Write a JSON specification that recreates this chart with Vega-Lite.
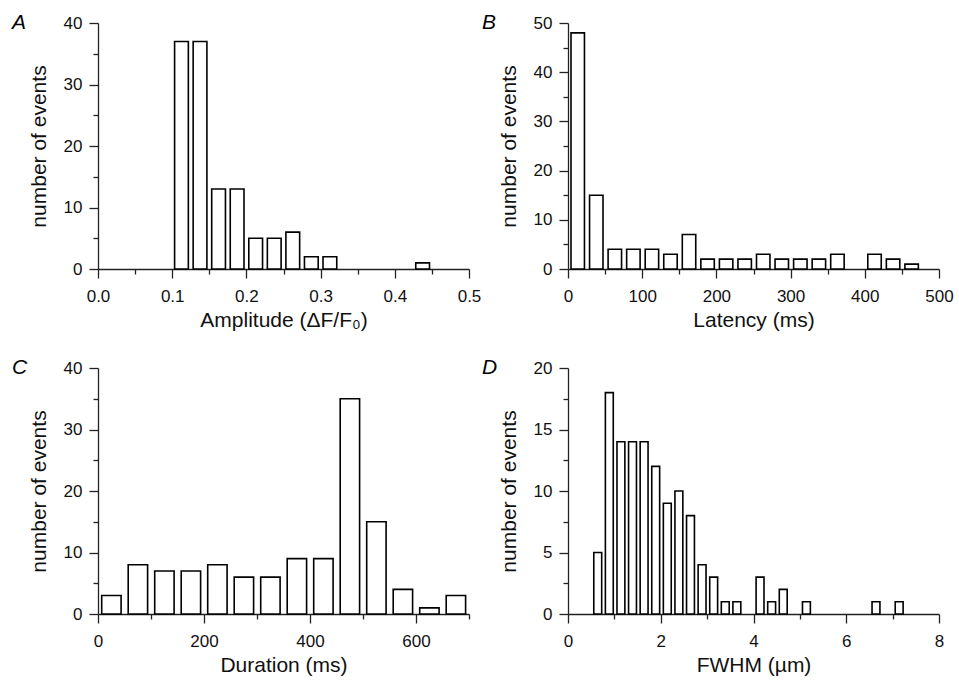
{
  "$schema": "https://vega.github.io/schema/vega-lite/v6.json",
  "padding": {"left": 12, "top": 12, "right": 10, "bottom": 10},
  "datasets": {
    "A": [
      {"start": 0.1, "end": 0.125, "count": 37},
      {"start": 0.125, "end": 0.15, "count": 37},
      {"start": 0.15, "end": 0.175, "count": 13},
      {"start": 0.175, "end": 0.2, "count": 13},
      {"start": 0.2, "end": 0.225, "count": 5},
      {"start": 0.225, "end": 0.25, "count": 5},
      {"start": 0.25, "end": 0.275, "count": 6},
      {"start": 0.275, "end": 0.3, "count": 2},
      {"start": 0.3, "end": 0.325, "count": 2},
      {"start": 0.425, "end": 0.45, "count": 1}
    ],
    "B": [
      {"start": 0, "end": 25, "count": 48},
      {"start": 25, "end": 50, "count": 15},
      {"start": 50, "end": 75, "count": 4},
      {"start": 75, "end": 100, "count": 4},
      {"start": 100, "end": 125, "count": 4},
      {"start": 125, "end": 150, "count": 3},
      {"start": 150, "end": 175, "count": 7},
      {"start": 175, "end": 200, "count": 2},
      {"start": 200, "end": 225, "count": 2},
      {"start": 225, "end": 250, "count": 2},
      {"start": 250, "end": 275, "count": 3},
      {"start": 275, "end": 300, "count": 2},
      {"start": 300, "end": 325, "count": 2},
      {"start": 325, "end": 350, "count": 2},
      {"start": 350, "end": 375, "count": 3},
      {"start": 400, "end": 425, "count": 3},
      {"start": 425, "end": 450, "count": 2},
      {"start": 450, "end": 475, "count": 1}
    ],
    "C": [
      {"start": 0, "end": 50, "count": 3},
      {"start": 50, "end": 100, "count": 8},
      {"start": 100, "end": 150, "count": 7},
      {"start": 150, "end": 200, "count": 7},
      {"start": 200, "end": 250, "count": 8},
      {"start": 250, "end": 300, "count": 6},
      {"start": 300, "end": 350, "count": 6},
      {"start": 350, "end": 400, "count": 9},
      {"start": 400, "end": 450, "count": 9},
      {"start": 450, "end": 500, "count": 35},
      {"start": 500, "end": 550, "count": 15},
      {"start": 550, "end": 600, "count": 4},
      {"start": 600, "end": 650, "count": 1},
      {"start": 650, "end": 700, "count": 3}
    ],
    "D": [
      {"start": 0.5, "end": 0.75, "count": 5},
      {"start": 0.75, "end": 1.0, "count": 18},
      {"start": 1.0, "end": 1.25, "count": 14},
      {"start": 1.25, "end": 1.5, "count": 14},
      {"start": 1.5, "end": 1.75, "count": 14},
      {"start": 1.75, "end": 2.0, "count": 12},
      {"start": 2.0, "end": 2.25, "count": 9},
      {"start": 2.25, "end": 2.5, "count": 10},
      {"start": 2.5, "end": 2.75, "count": 8},
      {"start": 2.75, "end": 3.0, "count": 4},
      {"start": 3.0, "end": 3.25, "count": 3},
      {"start": 3.25, "end": 3.5, "count": 1},
      {"start": 3.5, "end": 3.75, "count": 1},
      {"start": 4.0, "end": 4.25, "count": 3},
      {"start": 4.25, "end": 4.5, "count": 1},
      {"start": 4.5, "end": 4.75, "count": 2},
      {"start": 5.0, "end": 5.25, "count": 1},
      {"start": 6.5, "end": 6.75, "count": 1},
      {"start": 7.0, "end": 7.25, "count": 1}
    ]
  },
  "columns": 2,
  "spacing": {"row": 99, "column": 99},
  "bounds": "flush",
  "concat": [
    {
      "width": 371, "height": 246,
      "title": {"text": "A", "anchor": "start", "frame": "group", "dx": -86, "dy": 36, "offset": 0, "baseline": "alphabetic", "fontSize": 21, "fontStyle": "italic", "fontWeight": "normal", "font": "Liberation Sans", "color": "black"},
      "data": {"name": "A"},
      "layer": [
        {
          "mark": {"type": "bar", "fill": "white", "stroke": "black", "strokeWidth": 1.6, "xOffset": 2.4, "x2Offset": -2.4},
          "encoding": {
            "x": {"field": "start", "type": "quantitative", "scale": {"domain": [0, 0.5], "nice": false, "zero": false}, "axis": {"orient": "bottom", "values": [0, 0.1, 0.2, 0.3, 0.4, 0.5], "format": ".1f", "title": "Amplitude (ΔF/F₀)"}},
            "x2": {"field": "end"},
            "y": {"field": "count", "type": "quantitative", "scale": {"domain": [0, 40], "nice": false}, "axis": {"orient": "left", "values": [0, 10, 20, 30, 40], "title": "number of events"}},
            "y2": {"datum": 0}
          }
        },
        {
          "mark": {"type": "bar", "opacity": 0},
          "encoding": {
            "x": {"field": "start", "type": "quantitative", "axis": {"orient": "bottom", "values": [0.05, 0.15, 0.25, 0.35, 0.45], "labels": false, "domain": false, "tickSize": 5, "title": null}},
            "x2": {"field": "end"},
            "y": {"field": "count", "type": "quantitative", "axis": {"orient": "left", "values": [5, 15, 25, 35], "labels": false, "domain": false, "tickSize": 5, "title": null}},
            "y2": {"datum": 0}
          }
        }
      ],
      "resolve": {"axis": {"x": "independent", "y": "independent"}}
    },
    {
      "width": 371, "height": 246,
      "title": {"text": "B", "anchor": "start", "frame": "group", "dx": -86, "dy": 36, "offset": 0, "baseline": "alphabetic", "fontSize": 21, "fontStyle": "italic", "fontWeight": "normal", "font": "Liberation Sans", "color": "black"},
      "data": {"name": "B"},
      "layer": [
        {
          "mark": {"type": "bar", "fill": "white", "stroke": "black", "strokeWidth": 1.6, "xOffset": 3, "x2Offset": -2.1},
          "encoding": {
            "x": {"field": "start", "type": "quantitative", "scale": {"domain": [0, 500], "nice": false, "zero": false}, "axis": {"orient": "bottom", "values": [0, 100, 200, 300, 400, 500], "title": "Latency (ms)"}},
            "x2": {"field": "end"},
            "y": {"field": "count", "type": "quantitative", "scale": {"domain": [0, 50], "nice": false}, "axis": {"orient": "left", "values": [0, 10, 20, 30, 40, 50], "title": "number of events"}},
            "y2": {"datum": 0}
          }
        },
        {
          "mark": {"type": "bar", "opacity": 0},
          "encoding": {
            "x": {"field": "start", "type": "quantitative", "axis": {"orient": "bottom", "values": [50, 150, 250, 350, 450], "labels": false, "domain": false, "tickSize": 5, "title": null}},
            "x2": {"field": "end"},
            "y": {"field": "count", "type": "quantitative", "axis": {"orient": "left", "values": [5, 15, 25, 35, 45], "labels": false, "domain": false, "tickSize": 5, "title": null}},
            "y2": {"datum": 0}
          }
        }
      ],
      "resolve": {"axis": {"x": "independent", "y": "independent"}}
    },
    {
      "width": 371, "height": 246,
      "title": {"text": "C", "anchor": "start", "frame": "group", "dx": -86, "dy": 36, "offset": 0, "baseline": "alphabetic", "fontSize": 21, "fontStyle": "italic", "fontWeight": "normal", "font": "Liberation Sans", "color": "black"},
      "data": {"name": "C"},
      "layer": [
        {
          "mark": {"type": "bar", "fill": "white", "stroke": "black", "strokeWidth": 1.6, "xOffset": 3.7, "x2Offset": -3.4},
          "encoding": {
            "x": {"field": "start", "type": "quantitative", "scale": {"domain": [0, 700], "nice": false, "zero": false}, "axis": {"orient": "bottom", "values": [0, 200, 400, 600], "title": "Duration (ms)"}},
            "x2": {"field": "end"},
            "y": {"field": "count", "type": "quantitative", "scale": {"domain": [0, 40], "nice": false}, "axis": {"orient": "left", "values": [0, 10, 20, 30, 40], "title": "number of events"}},
            "y2": {"datum": 0}
          }
        },
        {
          "mark": {"type": "bar", "opacity": 0},
          "encoding": {
            "x": {"field": "start", "type": "quantitative", "axis": {"orient": "bottom", "values": [100, 300, 500, 700], "labels": false, "domain": false, "tickSize": 5, "title": null}},
            "x2": {"field": "end"},
            "y": {"field": "count", "type": "quantitative", "axis": {"orient": "left", "values": [5, 15, 25, 35], "labels": false, "domain": false, "tickSize": 5, "title": null}},
            "y2": {"datum": 0}
          }
        }
      ],
      "resolve": {"axis": {"x": "independent", "y": "independent"}}
    },
    {
      "width": 371, "height": 246,
      "title": {"text": "D", "anchor": "start", "frame": "group", "dx": -86, "dy": 36, "offset": 0, "baseline": "alphabetic", "fontSize": 21, "fontStyle": "italic", "fontWeight": "normal", "font": "Liberation Sans", "color": "black"},
      "data": {"name": "D"},
      "layer": [
        {
          "mark": {"type": "bar", "fill": "white", "stroke": "black", "strokeWidth": 1.6, "xOffset": 2.6, "x2Offset": -1.1},
          "encoding": {
            "x": {"field": "start", "type": "quantitative", "scale": {"domain": [0, 8], "nice": false, "zero": false}, "axis": {"orient": "bottom", "values": [0, 2, 4, 6, 8], "title": "FWHM (µm)"}},
            "x2": {"field": "end"},
            "y": {"field": "count", "type": "quantitative", "scale": {"domain": [0, 20], "nice": false}, "axis": {"orient": "left", "values": [0, 5, 10, 15, 20], "title": "number of events"}},
            "y2": {"datum": 0}
          }
        },
        {
          "mark": {"type": "bar", "opacity": 0},
          "encoding": {
            "x": {"field": "start", "type": "quantitative", "axis": {"orient": "bottom", "values": [1, 3, 5, 7], "labels": false, "domain": false, "tickSize": 5, "title": null}},
            "x2": {"field": "end"},
            "y": {"field": "count", "type": "quantitative", "axis": {"orient": "left", "values": [2.5, 7.5, 12.5, 17.5], "labels": false, "domain": false, "tickSize": 5, "title": null}},
            "y2": {"datum": 0}
          }
        }
      ],
      "resolve": {"axis": {"x": "independent", "y": "independent"}}
    }
  ],
  "config": {
    "view": {"stroke": null},
    "axis": {
      "grid": false,
      "labelFont": "Liberation Sans", "labelFontSize": 17, "labelColor": "#111",
      "titleFont": "Liberation Sans", "titleFontSize": 21, "titleFontWeight": "normal", "titleColor": "#111",
      "domainColor": "#222", "domainWidth": 1.3, "tickColor": "#222", "tickWidth": 1.3, "tickSize": 9,
      "labelFlush": false, "labelOverlap": false, "labelBound": false
    },
    "axisX": {"labelPadding": 10, "titlePadding": 5},
    "axisY": {"labelPadding": 7, "titlePadding": 14}
  }
}
